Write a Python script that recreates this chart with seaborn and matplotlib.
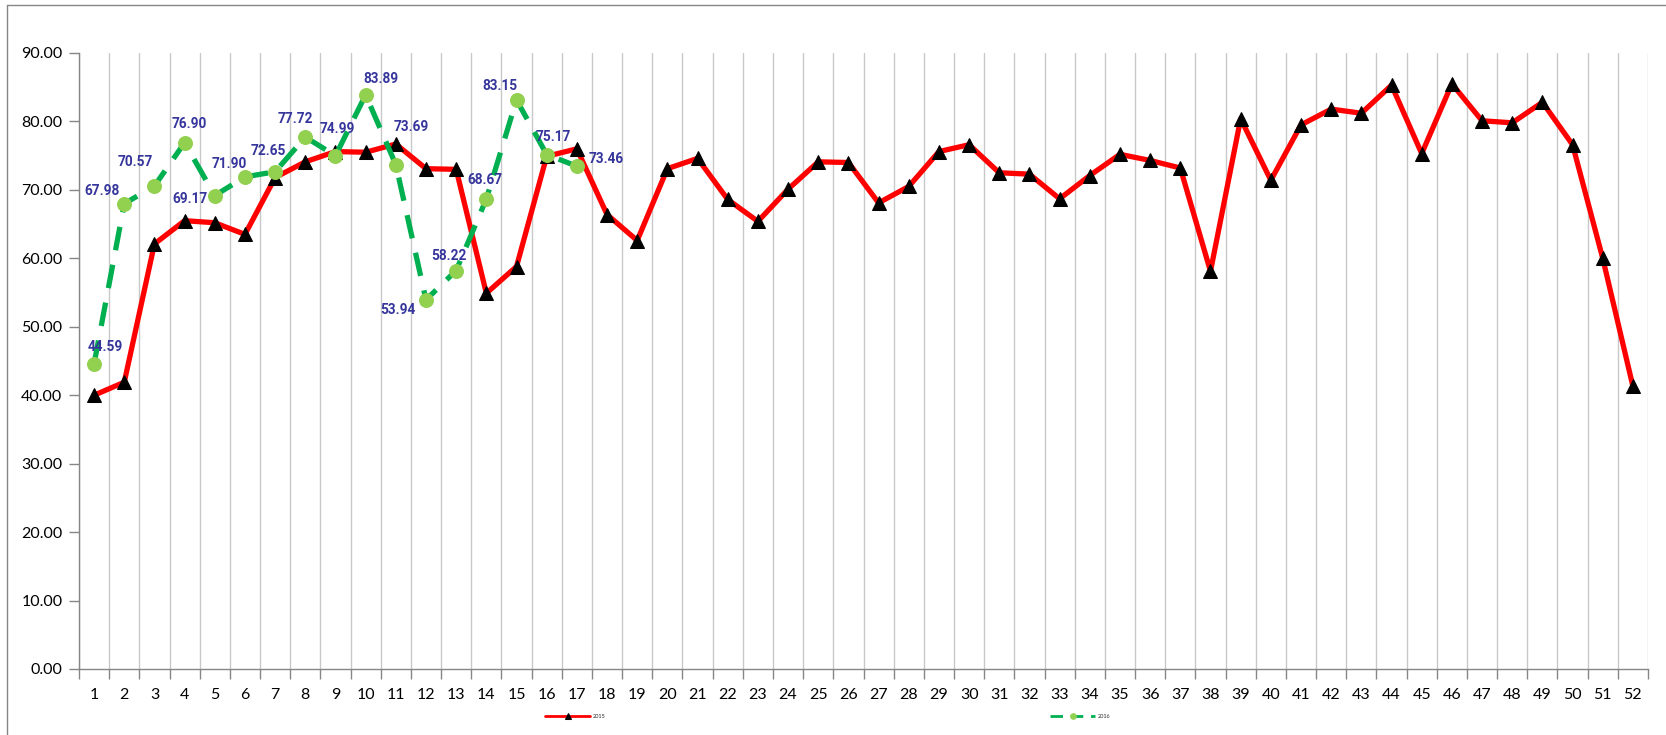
import matplotlib.pyplot as plt
import matplotlib.ticker as mticker
import numpy as np
import pandas as pd
import seaborn as sns

weeks = list(range(1, 53))

values_2015 = [40.0, 41.9, 62.1, 65.5, 65.2, 63.5, 71.8, 74.1, 75.6, 75.5,
               76.7, 73.1, 73.0, 54.9, 58.8, 74.9, 76.0, 66.4, 62.6, 73.1,
               74.6, 68.6, 65.4, 70.1, 74.1, 74.0, 68.1, 70.5, 75.6, 76.6,
               72.5, 72.3, 68.7, 72.1, 75.2, 74.3, 73.2, 58.1, 80.4, 71.4,
               79.5, 81.8, 81.2, 85.3, 75.3, 85.5, 80.1, 79.8, 82.8, 76.6,
               60.0, 41.3]

values_2016 = [44.59, 67.98, 70.57, 76.90, 69.17, 71.90, 72.65, 77.72, 74.99,
               83.89, 73.69, 53.94, 58.22, 68.67, 83.15, 75.17, 73.46]

# label offsets (pixels) for the 2016 data labels, hand placed like in the sheet
label_dx = [11, -22, -19, 5, -25, -16, -7, -10, 2, 15, 15, -28, -7, -1, -17, 7, 29]
label_dy = [17, 13, 24, 19, -3, 13, 21, 18, 27, 16, 38, -10, 15, 19, 14, 18, 7]

sns.set_style("white")
plt.rcParams['font.family'] = ['Lato', 'DejaVu Sans']

df15 = pd.DataFrame({'Week': weeks, 'Value': values_2015})
df16 = pd.DataFrame({'Week': weeks[:len(values_2016)], 'Value': values_2016})

fig = plt.figure(figsize=(16.66, 7.35), dpi=100)
ax = fig.add_axes([79 / 1666, 1 - 669 / 735, (1648 - 79) / 1666, (669 - 53) / 735])

sns.lineplot(data=df15, x='Week', y='Value', ax=ax, color='#FF0000', linewidth=3.8,
             marker='^', markersize=10, markerfacecolor='black', markeredgecolor='black',
             label='2015', zorder=3)
sns.lineplot(data=df16, x='Week', y='Value', ax=ax, color='#00B050', linewidth=3.8,
             marker='o', markersize=10, markerfacecolor='#92D050', markeredgecolor='#92D050',
             label='2016', zorder=4)
ax.lines[-1].set_dashes((4.5, 2.8))

for x, v, dx, dy in zip(df16['Week'], values_2016, label_dx, label_dy):
    ax.annotate(f"{v:.2f}", (x, v), xytext=(dx, dy), textcoords='offset pixels',
                ha='center', va='center', fontsize=9.8, fontweight='bold',
                family=['Roboto', 'DejaVu Sans'], color='#35359C', zorder=5)

ax.set_xlim(0.5, 52.5)
ax.set_ylim(0, 90)
ax.xaxis.set_major_locator(mticker.FixedLocator(weeks))
ax.xaxis.set_minor_locator(mticker.FixedLocator(np.arange(0.5, 53, 1)))
ax.yaxis.set_major_locator(mticker.MultipleLocator(10))
ax.yaxis.set_major_formatter(mticker.FormatStrFormatter('%.2f'))
ax.tick_params(axis='x', which='major', length=0, pad=14, labelsize=11.5, colors='black')
ax.tick_params(axis='x', which='minor', length=7, width=1, color='#868686', bottom=True)
ax.tick_params(axis='y', length=7, width=1, color='#868686', left=True, labelsize=11.5,
               pad=5, labelcolor='black')
ax.grid(axis='x', which='minor', color='#C8C8C8', linewidth=1)
ax.grid(axis='x', which='major', visible=False)
ax.grid(axis='y', visible=False)
ax.set_xlabel('')
ax.set_ylabel('')
for s in ['top', 'right']:
    ax.spines[s].set_visible(False)
for s in ['left', 'bottom']:
    ax.spines[s].set_color('#868686')
    ax.spines[s].set_linewidth(1)

ax.legend_.remove()
handles, labels = ax.get_legend_handles_labels()
leg = fig.legend(handles, labels, loc='center', bbox_to_anchor=(0.497, 1 - 716 / 735),
                 ncol=2, frameon=False, fontsize=4, handlelength=8,
                 columnspacing=80, handletextpad=0.6)
for h in leg.legend_handles:
    h.set_linewidth(2)
    h.set_markersize(4)

# chart area border
fig.add_artist(plt.Line2D([7 / 1666, 7 / 1666], [0, 1 - 5 / 735], color='#868686', linewidth=1))
fig.add_artist(plt.Line2D([7 / 1666, 1], [1 - 5 / 735, 1 - 5 / 735], color='#868686', linewidth=1))

plt.savefig('out.png', dpi=100)
